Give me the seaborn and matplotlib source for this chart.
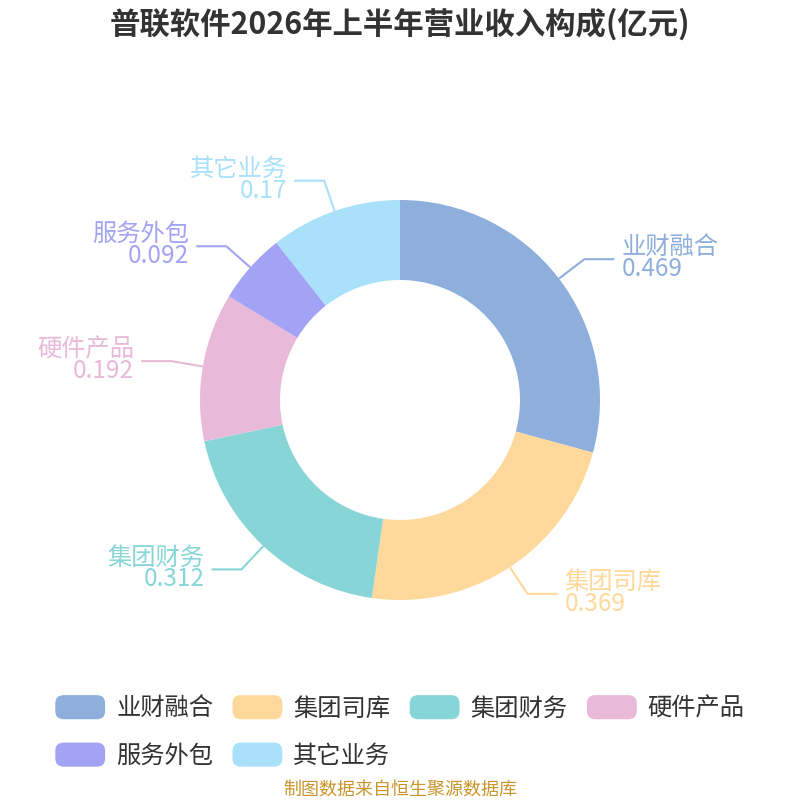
import numpy as np
import matplotlib
matplotlib.use("Agg")
import matplotlib.pyplot as plt
import seaborn as sns
from matplotlib.patches import FancyBboxPatch, Wedge
from matplotlib.legend_handler import HandlerPatch

# datos
categorias = ["业财融合", "集团司库", "集团财务", "硬件产品", "服务外包", "其它业务"]
valores = [0.469, 0.369, 0.312, 0.192, 0.092, 0.17]
etiquetas_valor = ["0.469", "0.369", "0.312", "0.192", "0.092", "0.17"]
colores = ["#8eaedb", "#ffd99b", "#88d5d8", "#e8b9d8", "#a3a3f5", "#a9e0fa"]
titulo = "普联软件2026年上半年营业收入构成(亿元)"
fuente = "制图数据来自恒生聚源数据库"

sns.set_theme(style="white")
plt.rcParams["font.family"] = ["Noto Sans CJK SC", "DejaVu Sans"]

fig = plt.figure(figsize=(8, 8), dpi=100)
ax = fig.add_axes([0, 0, 1, 1])

cx, cy, r = 400, 400, 200
wedges, _ = ax.pie(valores, colors=sns.color_palette(colores), startangle=90,
                   counterclock=False, radius=r, center=(cx, cy),
                   wedgeprops=dict(width=80, linewidth=0))
ax.set_xlim(0, 800)
ax.set_ylim(0, 800)
ax.set_aspect("equal")
ax.axis("off")

# etiquetas con linea guia
for w, nombre, val, col in zip(wedges, categorias, etiquetas_valor, colores):
    ang = np.deg2rad((w.theta1 + w.theta2) / 2)
    c, s = np.cos(ang), np.sin(ang)
    x0, y0 = cx + r * c, cy + r * s
    x1, y1 = cx + 232 * c, cy + 232 * s
    signo = 1 if c >= 0 else -1
    x2 = x1 + signo * 30
    ax.plot([x0, x1, x2], [y0, y1, y1], color=col, lw=1.5, solid_capstyle="butt")
    ha = "left" if signo > 0 else "right"
    xt = x2 + signo * 7
    ax.text(xt, y1 + 1, nombre + "\n" + val, color=col, fontsize=17.5, ha=ha,
            va="center", multialignment=ha, linespacing=0.8)

fig.text(0.5, 1 - 24 / 800, titulo, ha="center", va="center", fontsize=21.9,
         fontweight="bold", color="#333333")


class HandlerRedondo(HandlerPatch):
    def create_artists(self, legend, orig_handle, xdescent, ydescent, width, height, fontsize, trans):
        p = FancyBboxPatch((-xdescent + 3, -ydescent + 3), width - 6, height - 6,
                           boxstyle="round,pad=3,rounding_size=6",
                           facecolor=orig_handle.get_facecolor(), edgecolor="none",
                           transform=trans)
        return [p]


# matplotlib llena por columnas: reordenar para que se lea por filas
orden = [0, 4, 1, 5, 2, 3]
leg = fig.legend([wedges[i] for i in orden], [categorias[i] for i in orden],
                 loc="center", bbox_to_anchor=(0.5, 1 - 732 / 800),
                 ncol=4, frameon=False, fontsize=17.5, handlelength=2.05, handleheight=1.15,
                 handletextpad=0.45, columnspacing=0.8, labelspacing=0.87,
                 handler_map={Wedge: HandlerRedondo()})
for t in leg.get_texts():
    t.set_color("#333333")

fig.text(0.5, 1 - 790 / 800, fuente, ha="center", va="center", fontsize=13, color="#c9952c")

fig.savefig("out.png", dpi=100)
